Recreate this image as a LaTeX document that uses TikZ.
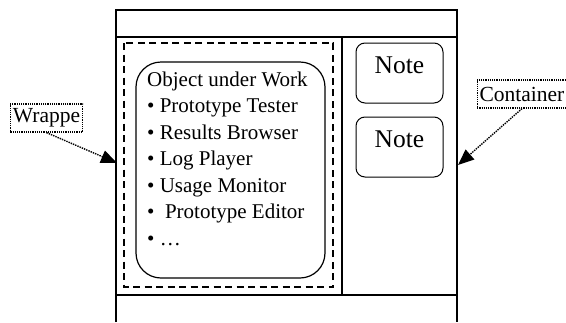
\documentclass[tikz,border=0pt]{standalone}
\usepackage{fontspec}
\setmainfont{Liberation Serif}
\usepackage{tikz}
\usetikzlibrary{shapes,arrows,arrows.meta,positioning,fit}

\begin{document}
\begin{tikzpicture}[x=1pt,y=-1pt]
			\tikzstyle{Frame}	= [line width=1.6pt, black]
			\tikzstyle{Wrap}	= [line width=1.4pt, dash pattern=on 7pt off 4.5pt]
			\tikzstyle{Obj}		= [draw, line width=1.2pt, rounded corners=25pt, minimum width=189pt, minimum height=216pt, inner sep=0pt]
			\tikzstyle{Item}	= [anchor=base west, inner sep=0pt, font=\fontsize{21}{26}\selectfont]
			\tikzstyle{NoteBox}	= [draw, line width=1pt, rounded corners=9pt, minimum width=87pt, inner sep=0pt, text height=30pt, text depth=30pt, font=\fontsize{25.5}{30}\selectfont]
			\tikzstyle{Tag}		= [draw, densely dotted, line width=1.2pt, inner sep=2.5pt, minimum height=28pt, font=\fontsize{21.5}{24}\selectfont]
			\tikzstyle{Ptr}		= [densely dotted, line width=1.4pt, -{Triangle[length=16pt,width=13pt]}]

			\useasboundingbox (0,0) rectangle (566,322);

			% container frame
			\draw [Frame] (116,322) -- (116,10) -- (457,10) -- (457,322);
			\draw [Frame] (116,37) -- (457,37);
			\draw [Frame] (116,295) -- (457,295);
			\draw [Frame] (342,37) -- (342,295);
			\coordinate (c0) at (117,163);
			\coordinate (c1) at (458,165);

			% wrapper and object
			\draw [Wrap] (124,43) rectangle (333,287);
			\node (o0) at (230.5,170) [Obj] {};

			\node (t0) at (147,86) [Item] {Object under Work};
			\node (t1) at (147,112.5) [Item] {• Prototype Tester};
			\node (t2) at (147,139) [Item] {• Results Browser};
			\node (t3) at (147,165.5) [Item] {• Log Player};
			\node (t4) at (147,192) [Item] {• Usage Monitor};
			\node (t5) at (147,218.5) [Item] {•~ Prototype Editor};
			\node (t6) at (147,245) [Item] {• …};

			% notes
			\node (n1) at (399.5,73) [NoteBox] {Note};
			\node (n2) at (399.5,147) [NoteBox] {Note};

			% labels
			\node (w0) at (46.5,118) [Tag] {Wrappe};
			\node (k0) at (522,94) [Tag] {Container};

			\draw [Ptr] (w0.south) to (c0);
			\draw [Ptr] (k0.south) to (c1);
		\end{tikzpicture}
\end{document}
